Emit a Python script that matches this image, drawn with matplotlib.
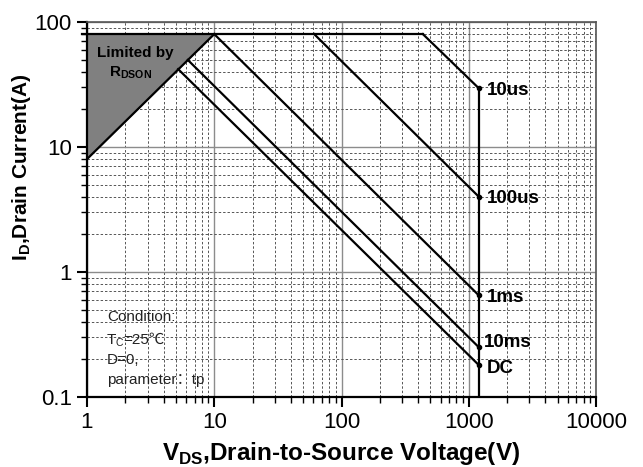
import numpy as np
import matplotlib
matplotlib.use("Agg")
import matplotlib.pyplot as plt
from matplotlib.ticker import LogLocator, NullFormatter, FixedLocator, FixedFormatter

plt.rcParams['font.family'] = ['Liberation Sans', 'DejaVu Sans']
plt.rcParams['mathtext.fontset'] = 'custom'
plt.rcParams['mathtext.rm'] = 'Liberation Sans'
plt.rcParams['mathtext.bf'] = 'Liberation Sans:bold'

# ---- data ----
i_max = 80.0            # package current limit (A)
v_max = 1200.0          # breakdown voltage limit (V)
rdson_v = [1, 10]       # R_DSON limit line, V
rdson_i = [8, 80]       # R_DSON limit line, A
labels = ["10us", "100us", "1ms", "10ms", "DC"]
start_v = [436, 61, 10, 6.2, 5.2]     # where each pulse curve leaves the limit
start_i = [80, 80, 80, 49.7, 42]
end_i = [29.5, 4.0, 0.65, 0.25, 0.18]  # current at v_max
label_v = [1390, 1390, 1390, 1320, 1390]
label_i = [28.5, 3.9, 0.63, 0.275, 0.168]

xticks = [1, 10, 100, 1000, 10000]
xticklabels = ["1", "10", "100", "1000", "10000"]
yticks = [0.1, 1, 10, 100]
yticklabels = ["0.1", "1", "10", "100"]

fig = plt.figure(figsize=(6.43, 4.67), dpi=100)
ax = fig.add_axes([87/643, 1-397/467, (596-87)/643, (397-22)/467])
ax.set_xscale('log')
ax.set_yscale('log')
ax.set_xlim(1, 10000)
ax.set_ylim(0.1, 100)

# grid
ax.grid(which='major', color='#8c8c8c', linestyle='-', linewidth=1.0)
ax.grid(which='minor', color='#555555', linestyle=(0, (2.5, 2)), linewidth=0.7)
ax.set_axisbelow(True)

# shaded R_DSON region
ax.fill_between(rdson_v, rdson_i, [i_max, i_max], color='#808080', linewidth=0, zorder=2)
ax.plot(rdson_v, rdson_i, color='black', lw=1.6, zorder=3)
# current limit line
ax.plot([0.92, start_v[0]], [i_max, i_max], color='black', lw=1.6, zorder=3, clip_on=False)

# SOA curves
for sv, si, ei, lab, lv, li in zip(start_v, start_i, end_i, labels, label_v, label_i):
    ax.plot([sv, v_max], [si, ei], color='black', lw=1.6, zorder=3)
    ax.plot([v_max], [ei], marker='o', ms=3, color='black', zorder=4)
    ax.text(lv, li, lab, fontsize=13.5, fontweight='bold', va='center', ha='left', zorder=5)

# vertical voltage limit
ax.plot([v_max, v_max], [0.1, end_i[0]], color='black', lw=1.6, zorder=3)

# annotations
ax.text(1.2, 57, "Limited by", fontsize=11, fontweight='bold', ha='left', va='center', zorder=5)
ax.text(1.5, 39, r"R$_{\mathbf{DSON}}$", fontsize=11, fontweight='bold', ha='left', va='center', zorder=5)

cond_fam = ['Liberation Sans', 'Noto Sans CJK SC', 'DejaVu Sans']
cx = 1.43
cfs = 11
ccol = '#222222'
ax.text(cx, 0.437, "Condition:", fontsize=cfs, color=ccol, family=cond_fam, va='center')
ax.text(cx, 0.286, "T", fontsize=cfs, color=ccol, family=cond_fam, va='center')
ax.annotate("C", (cx, 0.286), xytext=(6.6, -2.5), textcoords='offset points',
            fontsize=7.5, color=ccol, family=cond_fam, va='center')
ax.annotate("=25\u2103", (cx, 0.286), xytext=(12.2, 0), textcoords='offset points',
            fontsize=cfs, color=ccol, family=cond_fam, va='center')
ax.text(cx, 0.198, "D=0,", fontsize=cfs, color=ccol, family=cond_fam, va='center')
ax.text(cx, 0.137, "parameter\uff1atp", fontsize=cfs, color=ccol, family=cond_fam, va='center')

# ticks
ax.xaxis.set_major_locator(FixedLocator(xticks))
ax.xaxis.set_major_formatter(FixedFormatter(xticklabels))
ax.yaxis.set_major_locator(FixedLocator(yticks))
ax.yaxis.set_major_formatter(FixedFormatter(yticklabels))
ax.xaxis.set_minor_locator(LogLocator(base=10, subs=np.arange(2, 10)))
ax.yaxis.set_minor_locator(LogLocator(base=10, subs=np.arange(2, 10)))
ax.xaxis.set_minor_formatter(NullFormatter())
ax.yaxis.set_minor_formatter(NullFormatter())
ax.tick_params(which='major', direction='out', length=7, width=1.5, labelsize=16, pad=4)
ax.tick_params(which='minor', direction='out', length=4, width=1.0)
ax.tick_params(top=False, right=False)

for s in ['left', 'bottom']:
    ax.spines[s].set_linewidth(1.6)
    ax.spines[s].set_color('black')
for s in ['top', 'right']:
    ax.spines[s].set_linewidth(1.2)
    ax.spines[s].set_color('#555555')

ax.set_xlabel(r"V$_{\mathbf{DS}}$,Drain-to-Source Voltage(V)", fontsize=17.5, fontweight='bold', labelpad=5)
ax.set_ylabel(r"I$_{\mathbf{D}}$,Drain Current(A)", fontsize=15, fontweight='bold')
ax.yaxis.set_label_coords(-0.106, 0.613)

fig.savefig("out.png", dpi=100)
